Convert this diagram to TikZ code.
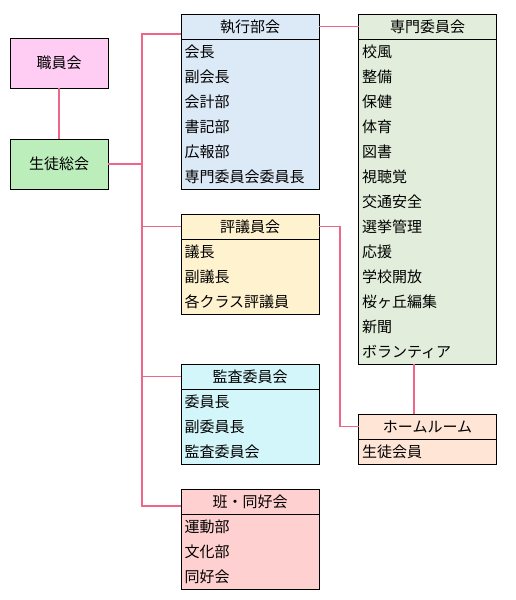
\documentclass[tikz,border=0pt]{standalone}
\usepackage{fontspec}
\setmainfont{Noto Sans CJK JP}
\usetikzlibrary{positioning}

\definecolor{linkpink}{HTML}{EE6688}
\definecolor{shokuinfill}{HTML}{FFCCF4}
\definecolor{sokaifill}{HTML}{BCEEBC}
\definecolor{shikkofill}{HTML}{DCE9F6}
\definecolor{senmonfill}{HTML}{E2EEDB}
\definecolor{hyogifill}{HTML}{FFF2CF}
\definecolor{kansafill}{HTML}{D2F6FA}
\definecolor{homeroomfill}{HTML}{FFE5D6}
\definecolor{hanfill}{HTML}{FFD0D0}

\tikzstyle{unit} = [
    rectangle,
    minimum width=98pt,
    minimum height=50pt,
    draw=black,
    line width=0.8pt,
    font=\fontsize{15}{18}\selectfont
]
\tikzstyle{head} = [
    rectangle,
    minimum width=138pt,
    minimum height=25pt,
    inner sep=0pt,
    outer sep=0pt,
    draw=black,
    line width=0.8pt,
    font=\fontsize{15}{18}\selectfont
]
\tikzstyle{body} = [
    rectangle,
    text width=131pt,
    inner xsep=3.5pt,
    inner ysep=0pt,
    outer sep=0pt,
    align=left,
    draw=black,
    line width=0.8pt,
    font=\fontsize{15}{25}\selectfont
]
\tikzstyle{link} = [line width=1.9pt, draw=linkpink]

\begin{document}
\begin{tikzpicture}[x=1pt,y=1pt]
\useasboundingbox (0,0) rectangle (515,-600);

\node (shokuin) [unit, fill=shokuinfill] at (59,-63) {職員会};

\node (sokai) [unit, fill=sokaifill] at (59,-164) {生徒総会};

\node (shikko) [head, fill=shikkofill] at (250,-26.5) {執行部会};
\node (shikkolist) [body, fill=shikkofill, minimum height=150pt, below=0pt of shikko]
{会長\\副会長\\会計部\\書記部\\広報部\\専門委員会委員長};

\node (senmon) [head, fill=senmonfill] at (427.5,-26.5) {専門委員会};
\node (senmonlist) [body, fill=senmonfill, minimum height=325pt, below=0pt of senmon]
{校風\\整備\\保健\\体育\\図書\\視聴覚\\交通安全\\選挙管理\\応援\\学校開放\\桜ヶ丘編集\\新聞\\ボランティア};

\node (hyogi) [head, fill=hyogifill] at (250,-226.5) {評議員会};
\node (hyogilist) [body, fill=hyogifill, minimum height=75pt, below=0pt of hyogi]
{議長\\副議長\\各クラス評議員};

\node (kansa) [head, fill=kansafill] at (250,-376.5) {監査委員会};
\node (kansalist) [body, fill=kansafill, minimum height=75pt, below=0pt of kansa]
{委員長\\副委員長\\監査委員会};

\node (homeroom) [head, fill=homeroomfill] at (427.5,-426.5) {ホームルーム};
\node (homeroomlist) [body, fill=homeroomfill, minimum height=25pt, below=0pt of homeroom]
{生徒会員};

\node (han) [head, fill=hanfill] at (250,-501.5) {班・同好会};
\node (hanlist) [body, fill=hanfill, minimum height=75pt, below=0pt of han]
{運動部\\文化部\\同好会};

\coordinate (spinetop) at (142,-34);
\coordinate (spinebot) at (142,-506);
\coordinate (turn) at (340,0);
\coordinate (hrline) at (414,0);

\draw [link] (shokuin.south) -- (sokai.north);
\draw [link] (sokai.east) -- (sokai.east -| spinetop);
\draw [link] (spinetop -| shikko.west) -- (spinetop) -- (spinebot) -- (spinebot -| han.west);
\draw [link] (hyogi.west -| spinetop) -- (hyogi.west);
\draw [link] (kansa.west -| spinetop) -- (kansa.west);
\draw [link] (shikko.east) -- (senmon.west);
\draw [link] (hyogi.east) -- (hyogi.east -| turn) |- (homeroom.west);
\draw [link] (senmonlist.south -| hrline) -- (homeroom.north -| hrline);

\end{tikzpicture}
\end{document}
